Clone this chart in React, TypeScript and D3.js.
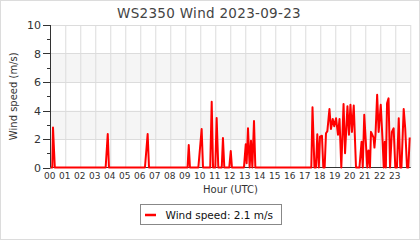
import React from "react";
import * as d3 from "d3";

const title = "WS2350 Wind 2023-09-23";
const yAxisTitle = "Wind speed (m/s)";
const xAxisTitle = "Hour (UTC)";
const legendLabel = "Wind speed: 2.1 m/s";

const hourLabels = ["00","01","02","03","04","05","06","07","08","09","10","11","12","13","14","15","16","17","18","19","20","21","22","23"];
const yTicks = [0, 2, 4, 6, 8, 10];
const yMinorTicks = [1, 3, 5, 7, 9];
const bands = [[2, 4], [6, 8]];

const times = [
  0, 0.10, 0.15, 0.27,
  3.66, 3.80, 3.88,
  6.28, 6.46, 6.55,
  9.12, 9.20, 9.28,
  9.84, 10.06, 10.15,
  10.63, 10.73, 10.82,
  10.97, 11.06, 11.17,
  11.40, 11.48, 11.57,
  11.90, 12.00, 12.08,
  12.88, 13.00, 13.06, 13.15, 13.26, 13.35, 13.44, 13.55, 13.64,
  17.37, 17.45, 17.58, 17.68, 17.77, 17.87, 17.95, 18.08, 18.17,
  18.26, 18.35, 18.44, 18.58, 18.68, 18.80, 18.90, 19.02, 19.15, 19.25, 19.37,
  19.52, 19.62, 19.78, 19.88, 19.98, 20.08, 20.20, 20.35,
  20.58, 20.72, 20.80, 20.90, 21.02, 21.10, 21.18, 21.28,
  21.35, 21.52, 21.58, 21.65, 21.76, 21.86, 22.00, 22.12, 22.20,
  22.27, 22.34, 22.42, 22.52, 22.62, 22.74, 22.86, 22.97,
  23.08, 23.20, 23.30, 23.38, 23.53, 23.63, 23.75, 23.84, 23.93,
];
const speeds = [
  0, 0, 2.8, 0,
  0, 2.35, 0,
  0, 2.35, 0,
  0, 1.58, 0,
  0, 2.7, 0,
  0, 4.62, 0,
  0, 3.47, 0,
  0, 2.07, 0,
  0, 1.16, 0,
  0, 1.63, 0.3, 2.75, 0, 1.88, 0, 3.26, 0,
  0, 4.22, 0, 0, 2.33, 0, 2.16, 2.23, 0,
  0, 2.4, 2.55, 4.1, 2.7, 3.4, 2.9, 3.45, 2.3, 3.4, 0,
  4.45, 1.0, 4.3, 2.3, 4.4, 2.5, 4.35, 0,
  0, 1.8, 0, 3.7, 1.5, 0, 1.2, 0,
  2.5, 2.1, 1.4, 2.3, 5.1, 2.5, 4.4, 1.9, 0,
  1.8, 0, 4.5, 4.85, 0, 2.5, 2.75, 0,
  0, 3.45, 0, 0, 4.1, 2.75, 0, 0, 2.1,
];

const W = 420;
const H = 240;
const FONT = "'DejaVu Sans', Verdana, sans-serif";

export default function App() {
  const x = d3.scaleLinear().domain([0, 24]).range([50.75, 410.75]);
  const y = d3.scaleLinear().domain([0, 10]).range([167.5, 25]);
  const pts = times.map((t, i) => [t, speeds[i]] as [number, number]);
  const line = d3
    .line<[number, number]>()
    .x((d) => x(d[0]))
    .y((d) => y(d[1]));
  const hours = d3.range(0, 25);

  return (
    <svg
      width={W}
      height={H}
      style={{ position: "absolute", left: 0, top: 0, background: "#fff" }}
      fontFamily={FONT}
    >
      <rect x={0.5} y={0.5} width={W - 1} height={H - 1} fill="#fff" stroke="#dcdcdc" />
      <text x={209} y={18} textAnchor="middle" fontSize={13.5} fill="#444" letterSpacing={0.3}>
        {title}
      </text>

      {bands.map(([a, b], i) => (
        <rect key={i} x={x(0)} y={y(b)} width={x(24) - x(0)} height={y(a) - y(b)} fill="#f5f5f5" />
      ))}

      {hours.slice(1).map((h) => (
        <line key={"v" + h} x1={x(h)} x2={x(h)} y1={y(10)} y2={y(0)} stroke="#dcdcdc" strokeWidth={1} />
      ))}
      {yTicks.slice(1).map((v) => (
        <line key={"h" + v} x1={x(0)} x2={x(24)} y1={Math.round(y(v)) + 0.5} y2={Math.round(y(v)) + 0.5} stroke="#dcdcdc" strokeWidth={1} />
      ))}

      <line x1={50.5} x2={50.5} y1={y(10)} y2={y(0)} stroke="#333" strokeWidth={1} />
      <line x1={50.5} x2={x(24)} y1={167.5} y2={167.5} stroke="#333" strokeWidth={1} />
      {yTicks.map((v) => (
        <line key={"t" + v} x1={43} x2={50.5} y1={Math.round(y(v)) + 0.5} y2={Math.round(y(v)) + 0.5} stroke="#333" />
      ))}
      {yMinorTicks.map((v) => (
        <line key={"m" + v} x1={47} x2={50.5} y1={Math.round(y(v)) + 0.5} y2={Math.round(y(v)) + 0.5} stroke="#333" />
      ))}
      {yTicks.map((v) => (
        <text key={"l" + v} x={41} y={y(v) + 4} textAnchor="end" fontSize={11} fill="#333">
          {v}
        </text>
      ))}
      {hourLabels.map((lab, i) => (
        <text key={"x" + i} x={x(i) - 1} y={179} textAnchor="middle" fontSize={9} fill="#333">
          {lab}
        </text>
      ))}

      <text x={230.5} y={193} textAnchor="middle" fontSize={10} fill="#333">
        {xAxisTitle}
      </text>
      <text transform={`translate(17,${(y(0) + y(10)) / 2}) rotate(-90)`} textAnchor="middle" fontSize={10} fill="#333">
        {yAxisTitle}
      </text>

      <path d={line(pts) || ""} fill="none" stroke="#ff0000" strokeWidth={2} strokeLinejoin="round" />

      <rect x={140.5} y={204.5} width={141} height={20} fill="#fff" stroke="#888" />
      <line x1={145} x2={156} y1={215} y2={215} stroke="#ff0000" strokeWidth={2.5} />
      <text x={165.5} y={218.5} fontSize={10.5} fill="#111">
        {legendLabel}
      </text>
    </svg>
  );
}
